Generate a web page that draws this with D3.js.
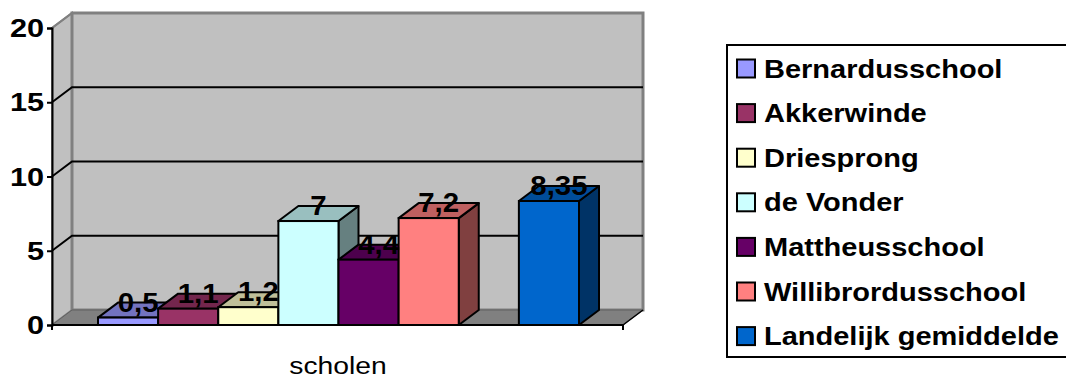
<html>
<head>
<script src="https://d3js.org/d3.v7.min.js"></script>
<style>
  body { margin: 0; background: #fff; }
  text { font-family: Arial, "Liberation Sans", sans-serif; }
</style>
</head>
<body>
<script>
  // data
  var schools = ["Bernardusschool", "Akkerwinde", "Driesprong", "de Vonder", "Mattheusschool", "Willibrordusschool", "Landelijk gemiddelde"];
  var values = [0.5, 1.1, 1.2, 7, 4.4, 7.2, 8.35];
  var labels = ["0,5", "1,1", "1,2", "7", "4,4", "7,2", "8,35"];
  var colors = ["#9999FF", "#993366", "#FFFFCC", "#CCFFFF", "#660066", "#FF8080", "#0066CC"];
  var slots = [0, 1, 2, 3, 4, 5, 7]; // one empty slot before the national average
  var yTicks = [0, 5, 10, 15, 20];
  var category = "scholen";

  var width = 1066, height = 380;
  var dx = 20, dy = -15; // 3d depth offset

  var svg = d3.select("body").append("svg")
    .attr("width", width).attr("height", height);

  var y = d3.scaleLinear().domain([0, 20]).range([325, 28]);
  var x = d3.scaleBand().domain(d3.range(8)).range([98, 579]);
  var x0 = 52, x1 = 623;

  function pts(a) { return a.map(function (p) { return p.join(","); }).join(" "); }
  function shade(col, k) {
    var c = d3.rgb(col);
    return d3.rgb(c.r * k, c.g * k, c.b * k).formatHex();
  }

  // stretched text helper (reference text is wider than tall)
  function stext(g, tx, ty, str, size, sx, anchor, weight) {
    return g.append("text")
      .attr("transform", "translate(" + tx + "," + ty + ") scale(" + sx + ",1)")
      .attr("text-anchor", anchor)
      .style("font-size", size + "px")
      .style("font-weight", weight)
      .text(str);
  }

  // walls
  svg.append("polygon") // left side wall
    .attr("points", pts([[x0, y(0)], [x0, y(20)], [x0 + dx, y(20) + dy], [x0 + dx, y(0) + dy]]))
    .style("fill", "#c0c0c0").style("stroke", "#808080").style("stroke-width", 2);
  svg.append("polygon") // back wall
    .attr("points", pts([[x0 + dx, y(20) + dy], [x1 + dx, y(20) + dy], [x1 + dx, y(0) + dy], [x0 + dx, y(0) + dy]]))
    .style("fill", "#c0c0c0").style("stroke", "#808080").style("stroke-width", 3);
  svg.append("polygon") // floor
    .attr("points", pts([[x0, y(0)], [x1, y(0)], [x1 + dx, y(0) + dy], [x0 + dx, y(0) + dy]]))
    .style("fill", "#808080").style("stroke", "#606060").style("stroke-width", 1);

  // grid lines
  yTicks.filter(function (t) { return t > 0 && t < 20; }).forEach(function (t) {
    svg.append("polyline")
      .attr("points", pts([[x0, y(t)], [x0 + dx, y(t) + dy], [x1 + dx, y(t) + dy]]))
      .style("fill", "none").style("stroke", "#000").style("stroke-width", 2);
  });
  svg.append("line")
    .attr("x1", x0).attr("y1", y(20)).attr("x2", x0 + dx).attr("y2", y(20) + dy)
    .style("stroke", "#808080").style("stroke-width", 2);

  // axes
  var yAxis = svg.append("g").attr("transform", "translate(" + x0 + ",0)")
    .call(d3.axisLeft(y).tickValues(yTicks).tickSize(5).tickFormat(""));
  yAxis.select(".domain").style("stroke", "#000").style("stroke-width", 2);
  yAxis.selectAll(".tick line").style("stroke", "#000").style("stroke-width", 2);
  yTicks.forEach(function (t) {
    stext(svg, 44, y(t) + 9, String(t), 26, 1.18, "end", "bold");
  });

  svg.append("line").attr("x1", x0).attr("y1", y(0)).attr("x2", x1).attr("y2", y(0))
    .style("stroke", "#000").style("stroke-width", 2);
  [x0, x1].forEach(function (px) {
    svg.append("line").attr("x1", px).attr("y1", y(0)).attr("x2", px).attr("y2", y(0) + 5)
      .style("stroke", "#000").style("stroke-width", 2);
  });
  svg.append("line").attr("x1", x1).attr("y1", y(0)).attr("x2", x1 + dx).attr("y2", y(0) + dy)
    .style("stroke", "#000").style("stroke-width", 1.5);

  // bars
  var bars = svg.append("g");
  values.forEach(function (v, i) {
    var L = x(slots[i]), R = L + x.bandwidth(), T = y(v), B = y(0);
    var g = bars.append("g");
    g.append("polygon")
      .attr("points", pts([[R, T], [R, B], [R + dx, B + dy], [R + dx, T + dy]]))
      .style("fill", shade(colors[i], 0.5)).style("stroke", "#000").style("stroke-width", 2).style("stroke-linejoin", "round");
    g.append("polygon")
      .attr("points", pts([[L, T], [R, T], [R + dx, T + dy], [L + dx, T + dy]]))
      .style("fill", shade(colors[i], 0.75)).style("stroke", "#000").style("stroke-width", 2).style("stroke-linejoin", "round");
    g.append("rect")
      .attr("x", L).attr("y", T).attr("width", R - L).attr("height", B - T)
      .style("fill", colors[i]).style("stroke", "#000").style("stroke-width", 2);
  });

  // value labels
  values.forEach(function (v, i) {
    var cx = x(slots[i]) + x.bandwidth() / 2 + dx / 2;
    stext(svg, cx, y(v) - 6, labels[i], 28, 1.05, "middle", "bold");
  });

  // category label
  stext(svg, 338, 374, category, 23, 1.23, "middle", "normal");

  // legend
  var lg = svg.append("g");
  lg.append("rect").attr("x", 727).attr("y", 45).attr("width", 345).attr("height", 312)
    .style("fill", "#fff").style("stroke", "#000").style("stroke-width", 2);
  schools.forEach(function (s, i) {
    var cy = 68.5 + i * 44.6;
    lg.append("rect").attr("x", 737).attr("y", cy - 9).attr("width", 18).attr("height", 18)
      .style("fill", colors[i]).style("stroke", "#000").style("stroke-width", 2);
    stext(lg, 764, cy + 9, s, 25, 1.16, "start", "bold");
  });
</script>
</body>
</html>
